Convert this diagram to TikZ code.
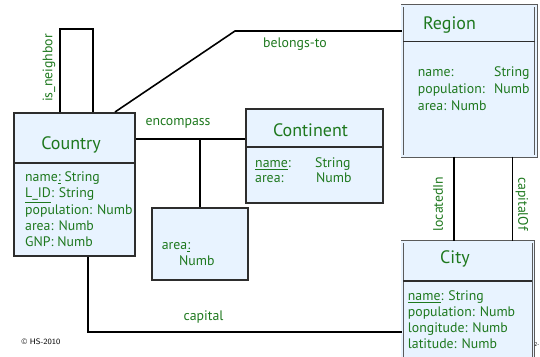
\documentclass[tikz,border=0pt]{standalone}
\usepackage{fontspec}
\setmainfont{PT Sans}
\usetikzlibrary{calc}
\definecolor{boxfill}{RGB}{232,243,255}
\definecolor{txtgreen}{RGB}{30,120,30}
\definecolor{boxline}{RGB}{45,45,45}
\definecolor{dblline}{RGB}{90,90,90}
\begin{document}
\begin{tikzpicture}[x=1pt,y=-1pt,
  box/.style={draw=boxline,line width=1.8pt,fill=boxfill,anchor=north west,inner sep=0pt},
  dbox/.style={draw=dblline,line width=0.8pt,double=boxfill,double distance=1.6pt,fill=boxfill,anchor=north west,inner sep=0pt},
  divider/.style={draw=boxline,line width=1.6pt},
  conn/.style={draw=black,line width=1.6pt},
  title/.style={text=txtgreen,font=\fontsize{18}{18}\selectfont,inner sep=0pt},
  attr/.style={text=txtgreen,font=\fontsize{13.8}{13.8}\selectfont,inner sep=0pt,anchor=west,text height=0.72em,text depth=0.05em},
  lab/.style={text=txtgreen,font=\fontsize{13.8}{13.8}\selectfont,inner sep=0pt}
]
\useasboundingbox (0,0) rectangle (540,356);
% boxes
\node[box,minimum width=121pt,minimum height=143pt] (country) at (13,112) {};
\node[box,minimum width=137pt,minimum height=94pt] (continent) at (245,108) {};
\node[box,minimum width=96.6pt,minimum height=72pt] (areabox) at (150.7,206.7) {};
\node[dbox,minimum width=133.8pt,minimum height=150.4pt] (region) at (401.8,5.3) {};
\node[dbox,minimum width=131.4pt,minimum height=125pt] (city) at (401.8,241.3) {};
% dividers
\coordinate (dcountry) at (0,163);
\coordinate (dcontinent) at (0,147);
\coordinate (dregion) at (0,41.6);
\coordinate (dcity) at (0,281);
\draw[divider] (country.west |- dcountry) -- (country.east |- dcountry);
\draw[divider] (continent.west |- dcontinent) -- (continent.east |- dcontinent);
\draw[divider] ([xshift=1.6pt]region.west |- dregion) -- ([xshift=-1.6pt]region.east |- dregion);
\draw[divider] ([xshift=1.6pt]city.west |- dcity) -- ([xshift=-1.6pt]city.east |- dcity);
% titles
\node[title] (tcountry) at (71,145) {Country};
\node[title] (tcontinent) at (310.5,130) {Continent};
\node[title] (tregion) at (449.5,25) {Region};
\node[title] (tcity) at (455,259) {City};
% attributes
\node[attr] (c1) at (25,178) {name\underline{:} String};
\node[attr] (c2) at (25,194.5) {\underline{L\_ID}: String};
\node[attr] (c3) at (25,211) {population: Numb};
\node[attr] (c4) at (25,227.3) {area: Numb};
\node[attr] (c5) at (25,243.6) {GNP: Numb};
\node[attr] (k1) at (255,164) {\underline{name}:};
\node[attr] (k2) at (315,164) {String};
\node[attr] (k3) at (255,179.3) {area:};
\node[attr] (k4) at (316,179.3) {Numb};
\node[attr] (a1) at (161.7,246) {area\underline{:}};
\node[attr] (a2) at (179,262) {Numb};
\node[attr] (r1) at (417.7,73) {name:};
\node[attr] (r2) at (494,73) {String};
\node[attr] (r3) at (417.7,90) {population:};
\node[attr] (r4) at (494,90) {Numb};
\node[attr] (r5) at (417.7,107) {area: Numb};
\node[attr] (y1) at (407.7,297) {\underline{name}: String};
\node[attr] (y2) at (407.7,313.5) {population: Numb};
\node[attr] (y3) at (407.7,329.3) {longitude: Numb};
\node[attr] (y4) at (407.7,345.3) {latitude: Numb};
% connectors
\coordinate (nb1) at (60,29);
\coordinate (nb2) at (93,29);
\draw[conn] (country.north -| nb1) -- (nb1) -- (nb2) -- (country.north -| nb2);
\coordinate (bt0) at (115,0);
\coordinate (bt) at (235,31);
\draw[conn] (country.north -| bt0) -- (bt) -- (bt -| region.west);
\coordinate (enc) at (0,139);
\draw[conn] (country.east |- enc) -- (continent.west |- enc);
\draw[conn] (areabox.north |- enc) -- (areabox.north);
\coordinate (cap) at (88,332);
\draw[conn] (country.south -| cap) -- (cap) -- (cap -| city.west);
\coordinate (li) at (454,0);
\coordinate (co) at (512.3,0);
\draw[conn] (region.south -| li) -- (city.north -| li);
\draw[conn] (region.south -| co) -- (city.north -| co);
% labels
\node[lab,rotate=90] (lnb) at (49,68) {is\_neighbor};
\node[lab] (lbt) at (295,44) {belongs-to};
\node[lab] (lenc) at (178,123) {encompass};
\node[lab] (lcap) at (203.5,317) {capital};
\node[lab,rotate=90] (lli) at (438,204) {locatedIn};
\node[lab,rotate=-90] (lco) at (522,204) {capitalOf};
% footer
\node[font=\fontsize{8}{8}\selectfont\sffamily,inner sep=0pt] (copy) at (41,342) {\textcopyright{} HS-2010};
\node[font=\fontsize{5.5}{5.5}\selectfont,inner sep=0pt,anchor=east] (pg) at (539.5,345) {2-};
\end{tikzpicture}
\end{document}
